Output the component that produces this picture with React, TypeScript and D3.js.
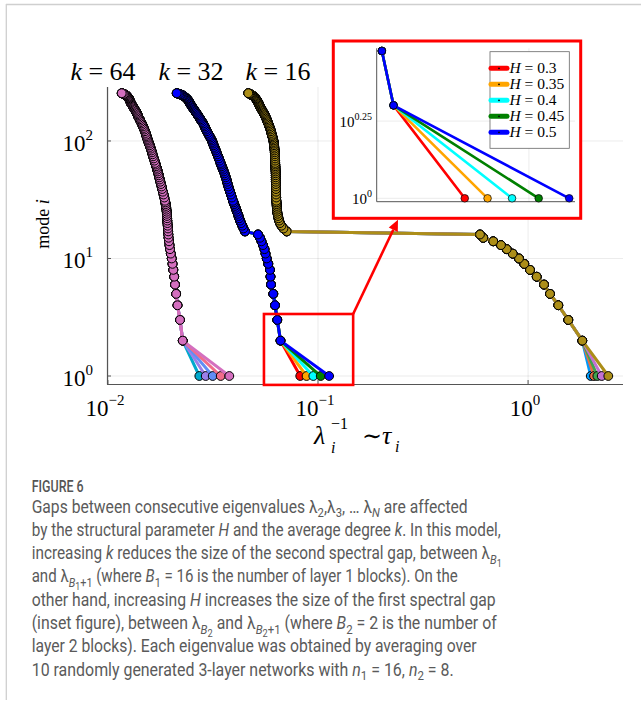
import React from 'react';
import { scaleLog, line } from 'd3';

const width = 641;
const height = 706;

const hValues = ['0.3', '0.35', '0.4', '0.45', '0.5'];
const kLabels = ['64', '32', '16'];

// modes i read along the dense upper band (same modes for every k)
const modesUpper = [255, 253, 251, 249, 247, 245, 243, 240, 237, 234, 231, 228, 225, 221, 217, 213, 209, 205, 201, 197, 193, 189, 185, 181, 177, 173, 169, 165, 161, 157, 153, 149, 145, 141, 137, 133, 129, 125, 121, 117, 113, 110, 107, 104, 101, 98, 95, 92, 89, 86, 83, 80, 77, 74, 71, 68, 65, 63, 61, 59, 57, 55, 53, 51, 49, 47, 45, 43, 41, 39, 37, 35, 33, 31, 30, 29, 28, 27, 26, 25, 24, 23, 22, 21, 20, 19, 18, 17];
const modesLower = [16, 15, 14, 13, 12, 11, 10, 9, 8, 7, 6, 5, 4, 3, 2];

// lambda_i^-1 for k = 64
const up64 = [0.01163, 0.01178, 0.01193, 0.01203, 0.01212, 0.01222, 0.01229, 0.01236, 0.01244, 0.0125, 0.01256, 0.01261, 0.01266, 0.01271, 0.01277, 0.01283, 0.01288, 0.01297, 0.01306, 0.01315, 0.01324, 0.01333, 0.01343, 0.01353, 0.01363, 0.01372, 0.0138, 0.01388, 0.01395, 0.01405, 0.01416, 0.01426, 0.01437, 0.01447, 0.01458, 0.01469, 0.0148, 0.01491, 0.01501, 0.01512, 0.01521, 0.01527, 0.01535, 0.01543, 0.01551, 0.0156, 0.0157, 0.01581, 0.01591, 0.01601, 0.01611, 0.01621, 0.01631, 0.01641, 0.01653, 0.01666, 0.0168, 0.01689, 0.01698, 0.01708, 0.01718, 0.01727, 0.01737, 0.01746, 0.01755, 0.01766, 0.01777, 0.01789, 0.01801, 0.01813, 0.01826, 0.01841, 0.01856, 0.0187, 0.01877, 0.01883, 0.0189, 0.01895, 0.019, 0.01905, 0.01908, 0.01912, 0.01915, 0.01918, 0.01921, 0.01926, 0.01932, 0.01936];
const low64 = [0.0194, 0.01944, 0.01953, 0.01964, 0.01975, 0.01992, 0.02012, 0.0203, 0.02048, 0.02068, 0.02086, 0.02113, 0.02144, 0.02204, 0.0227];
const end64 = [0.02723, 0.02921, 0.03153, 0.03442, 0.03783];

// k = 32
const up32 = [0.02125, 0.02155, 0.02188, 0.02215, 0.0224, 0.02265, 0.02285, 0.02303, 0.02325, 0.02345, 0.0236, 0.0238, 0.024, 0.02414, 0.02428, 0.02442, 0.0246, 0.02474, 0.0249, 0.02508, 0.02528, 0.02548, 0.0257, 0.02592, 0.02615, 0.02638, 0.0266, 0.02684, 0.02708, 0.02732, 0.02756, 0.02782, 0.02812, 0.02844, 0.02864, 0.02886, 0.02908, 0.02931, 0.02958, 0.02988, 0.0302, 0.03046, 0.03072, 0.031, 0.03125, 0.03145, 0.03165, 0.03185, 0.0321, 0.03235, 0.03262, 0.03288, 0.03315, 0.03345, 0.03375, 0.03405, 0.03435, 0.03458, 0.03482, 0.03508, 0.03535, 0.03562, 0.0359, 0.03614, 0.0364, 0.03668, 0.03692, 0.03716, 0.03745, 0.0378, 0.03815, 0.03855, 0.03893, 0.03939, 0.03965, 0.03993, 0.04026, 0.04055, 0.04085, 0.04115, 0.0415, 0.04184, 0.0422, 0.0426, 0.0431, 0.04365, 0.0442, 0.04493];
const low32 = [0.05181, 0.05296, 0.05383, 0.05473, 0.05563, 0.05625, 0.05699, 0.058, 0.05909, 0.05941, 0.05975, 0.06127, 0.06242, 0.064, 0.0663];
const end32 = [0.0823, 0.0882, 0.095, 0.103, 0.113];

// k = 16
const up16 = [0.04658, 0.04705, 0.0475, 0.0479, 0.04825, 0.0486, 0.04893, 0.0493, 0.04972, 0.05005, 0.05035, 0.05065, 0.05096, 0.05127, 0.05157, 0.05187, 0.05215, 0.0524, 0.05265, 0.05292, 0.05323, 0.0536, 0.05398, 0.05435, 0.05473, 0.05513, 0.05553, 0.05594, 0.05627, 0.0566, 0.05693, 0.05727, 0.05763, 0.058, 0.05835, 0.0587, 0.05906, 0.05942, 0.05972, 0.06, 0.06032, 0.06058, 0.06085, 0.0611, 0.06133, 0.0615, 0.06165, 0.0618, 0.06192, 0.06205, 0.06217, 0.06228, 0.06234, 0.0624, 0.06246, 0.06252, 0.06258, 0.06262, 0.06268, 0.06273, 0.06279, 0.06285, 0.0629, 0.06292, 0.06294, 0.06296, 0.06297, 0.06301, 0.06305, 0.0631, 0.06314, 0.06319, 0.06326, 0.06338, 0.06346, 0.06353, 0.0636, 0.0637, 0.06382, 0.06395, 0.0642, 0.0645, 0.06486, 0.06535, 0.06593, 0.06702, 0.06852, 0.07096];
const low16 = [0.5903, 0.612, 0.6829, 0.743, 0.791, 0.8448, 0.9053, 0.9594, 1.0212, 1.099, 1.1909, 1.2716, 1.3928, 1.5541, 1.8119];
const end16 = [1.987, 2.06, 2.136, 2.241, 2.409];

const colors64 = ['#00a9cd', '#9b7fe9', '#618df6', '#f16c8b', '#d46fbf'];
const colors32 = ['#ff0000', '#ffa500', '#00ffff', '#008000', '#0000ff'];
const colors16 = ['#009afa', '#e36f47', '#3ea44e', '#c371d2', '#ac8e18'];

const xTicks = [0.01, 0.1, 1];
const xTickExp = ['\u22122', '\u22121', '0'];
const yTicks = [1, 10, 100];
const yTickExp = ['0', '1', '2'];
const insetYTicks = [1, Math.pow(10, 0.25)];
const insetYTickExp = ['0', '0.25'];
const insetModes = [3, 2];

// zoomed region shown in the inset (data coords)
const zoomBox = { x0: 0.0553, x1: 0.147, y0: 0.84, y1: 3.37 };

const x = scaleLog().domain([0.0099, 2.83]).range([107, 623]);
const y = scaleLog().domain([0.855, 288]).range([384, 87]);

const inset = { left: 333.3, top: 41, right: 580.7, bottom: 218.3 };
const ix = scaleLog().domain([0.063, 0.115]).range([376.7, 575]);
const iy = scaleLog().domain([0.975, 3.06]).range([201.7, 48.3]);

const serif = "'Liberation Serif', 'DejaVu Serif', serif";
const sans = "Roboto, 'Noto Sans', sans-serif";

type Seg = [string, number?, boolean?];
const caption: Seg[][] = [
  [['Gaps between consecutive eigenvalues '], ['λ'], ['2', 1], [','], ['λ'], ['3', 1], [', … '], ['λ'], ['N', 1, true], [' are affected']],
  [['by the structural parameter '], ['H', 0, true], [' and the average degree '], ['k', 0, true], ['. In this model,']],
  [['increasing '], ['k', 0, true], [' reduces the size of the second spectral gap, between '], ['λ'], ['B', 1, true], ['1', 2]],
  [['and '], ['λ'], ['B', 1, true], ['1', 2], ['+1', 1], [' (where '], ['B', 0, true], ['1', 1], [' = 16 is the number of layer 1 blocks). On the']],
  [['other hand, increasing '], ['H', 0, true], [' increases the size of the first spectral gap']],
  [['(inset figure), between '], ['λ'], ['B', 1, true], ['2', 2], [' and '], ['λ'], ['B', 1, true], ['2', 2], ['+1', 1], [' (where '], ['B', 0, true], ['2', 1], [' = 2 is the number of']],
  [['layer 2 blocks). Each eigenvalue was obtained by averaging over']],
  [['10 randomly generated 3-layer networks with '], ['n', 0, true], ['1', 1], [' = 16, '], ['n', 0, true], ['2', 1], [' = 8.']],
];
const captionWidths = [436, 469, 470, 426, 464, 465, 445, 422];

const curves = [
  { up: up16, low: low16, ends: end16, colors: colors16 },
  { up: up32, low: low32, ends: end32, colors: colors32 },
  { up: up64, low: low64, ends: end64, colors: colors64 },
];

const mainLine = line<[number, number]>().x(d => x(d[0])).y(d => y(d[1]));
const insetLine = line<[number, number]>().x(d => ix(d[0])).y(d => iy(d[1]));

const CaptionLine = ({ segs, i }: { segs: Seg[]; i: number }) => {
  const off = [0, 4.5, 7.5];
  const fs = [18, 13, 10.5];
  let prev = 0;
  return (
    <text x={31.7} y={512.5 + i * 23.3} fontFamily={sans} fontSize={18} fill="#5a5a5a"
      textLength={captionWidths[i]} lengthAdjust="spacingAndGlyphs" style={{ whiteSpace: 'pre' }}>
      {segs.map((s, j) => {
        const lvl = s[1] || 0;
        const dy = off[lvl] - off[prev];
        prev = lvl;
        return (
          <tspan key={j} dy={dy} fontSize={fs[lvl]} fontStyle={s[2] ? 'italic' : 'normal'}>{s[0]}</tspan>
        );
      })}
    </text>
  );
};

const App = () => {
  // arrow from zoom box corner to inset
  const ax0 = x(zoomBox.x1), ay0 = y(zoomBox.y1);
  const ax1 = 398, ay1 = inset.bottom + 1.5;
  const len = Math.hypot(ax1 - ax0, ay1 - ay0);
  const ux = (ax1 - ax0) / len, uy = (ay1 - ay0) / len;
  const hb = [ax1 - ux * 11, ay1 - uy * 11];
  const head = `${ax1},${ay1} ${hb[0] - uy * 5},${hb[1] + ux * 5} ${hb[0] + uy * 5},${hb[1] - ux * 5}`;

  const m32 = insetModes.map(m => [low32[modesLower.indexOf(m)], m] as [number, number]);

  return (
    <svg width={width} height={height} style={{ position: 'absolute', left: 0, top: 0, background: '#fff' }}>
      {/* page frame */}
      <line x1={6} y1={4.5} x2={641} y2={4.5} stroke="#cfcfcf" strokeWidth={1.3} />
      <line x1={6.3} y1={4} x2={6.3} y2={700} stroke="#cfcfcf" strokeWidth={1.3} />

      {/* grid */}
      {xTicks.map((t, i) => (
        <line key={'gx' + i} x1={x(t)} x2={x(t)} y1={87} y2={384} stroke="#000" strokeOpacity={0.08} />
      ))}
      {yTicks.map((t, i) => (
        <line key={'gy' + i} x1={107} x2={623} y1={y(t)} y2={y(t)} stroke="#000" strokeOpacity={0.08} />
      ))}

      {/* series: one per H, markers drawn from mode 1 upward */}
      {curves.map((c, ci) => (
        <g key={ci}>
          {c.ends.map((e, j) => {
            const pts: [number, number][] = [[e, 1]];
            for (let i = c.low.length - 1; i >= 0; i--) pts.push([c.low[i], modesLower[i]]);
            for (let i = c.up.length - 1; i >= 0; i--) pts.push([c.up[i], modesUpper[i]]);
            return (
              <g key={j}>
                <path d={mainLine(pts) || ''} fill="none" stroke={c.colors[j]} strokeWidth={3} strokeLinejoin="round" />
                {pts.map((p, k) => (
                  <circle key={k} cx={x(p[0])} cy={y(p[1])} r={4.4} fill={c.colors[j]} stroke="#000" strokeWidth={1} />
                ))}
              </g>
            );
          })}
        </g>
      ))}

      {/* axes */}
      <line x1={107.5} x2={107.5} y1={87} y2={384.5} stroke="#555" strokeWidth={1.2} />
      <line x1={107} x2={623} y1={384.5} y2={384.5} stroke="#555" strokeWidth={1.2} />
      {xTicks.map((t, i) => (
        <g key={'xt' + i}>
          <line x1={x(t)} x2={x(t)} y1={384} y2={380} stroke="#555" />
          <text x={x(t) - 3} y={416} textAnchor="middle" fontFamily={serif} fontSize={23} fill="#000">
            10<tspan dy={-11} fontSize={15}>{xTickExp[i]}</tspan>
          </text>
        </g>
      ))}
      {yTicks.map((t, i) => (
        <g key={'yt' + i}>
          <line x1={107} x2={111} y1={y(t)} y2={y(t)} stroke="#555" />
          <text x={93} y={y(t) + 10} textAnchor="end" fontFamily={serif} fontSize={23} fill="#000">
            10<tspan dy={-11} fontSize={15}>{yTickExp[i]}</tspan>
          </text>
        </g>
      ))}

      {/* axis titles */}
      <g fontFamily={serif} fill="#000">
        <text x={314} y={444} fontSize={26} fontStyle="italic">λ</text>
        <text x={331} y={429} fontSize={16}>−1</text>
        <text x={331} y={453} fontSize={16} fontStyle="italic">i</text>
        <text x={362} y={444} fontSize={24}>∼</text>
        <text x={382} y={444} fontSize={26} fontStyle="italic">τ</text>
        <text x={395} y={452} fontSize={16} fontStyle="italic">i</text>
        <text transform="translate(49,224) rotate(-90)" textAnchor="middle" fontSize={18}>
          mode <tspan fontStyle="italic">i</tspan>
        </text>
      </g>

      {/* k labels */}
      {kLabels.map((k, i) => (
        <text key={'k' + i} x={[103, 191, 278][i]} y={80} textAnchor="middle" fontFamily={serif} fontSize={26} fill="#000">
          <tspan fontStyle="italic">k</tspan> = {k}
        </text>
      ))}

      {/* zoom box and arrow */}
      <rect x={x(zoomBox.x0)} y={y(zoomBox.y1)} width={x(zoomBox.x1) - x(zoomBox.x0)} height={y(zoomBox.y0) - y(zoomBox.y1)}
        fill="none" stroke="#ff0000" strokeWidth={2.6} />
      <line x1={ax0} y1={ay0} x2={hb[0]} y2={hb[1]} stroke="#ff0000" strokeWidth={2.6} />
      <polygon points={head} fill="#ff0000" />

      {/* inset */}
      <rect x={inset.left} y={inset.top} width={inset.right - inset.left} height={inset.bottom - inset.top}
        fill="#fff" stroke="#ff0000" strokeWidth={3} />
      {insetYTicks.map((t, i) => (
        <g key={'iy' + i}>
          <line x1={376.7} x2={575} y1={iy(t)} y2={iy(t)} stroke="#000" strokeOpacity={0.08} />
          <text x={372} y={iy(t) + 5.5} textAnchor="end" fontFamily={serif} fontSize={15} fill="#000">
            10<tspan dy={-7} fontSize={10}>{insetYTickExp[i]}</tspan>
          </text>
        </g>
      ))}
      <line x1={ix(0.1)} x2={ix(0.1)} y1={48.3} y2={201.7} stroke="#000" strokeOpacity={0.08} />
      <line x1={376.7} x2={376.7} y1={48.3} y2={201.7} stroke="#555" strokeWidth={1} />
      <line x1={376.7} x2={575} y1={201.7} y2={201.7} stroke="#555" strokeWidth={1} />
      {end32.map((e, j) => {
        const pts: [number, number][] = [[e, 1], ...m32.slice().reverse()];
        return (
          <g key={'in' + j}>
            <path d={insetLine(pts) || ''} fill="none" stroke={colors32[j]} strokeWidth={2.6} />
            {pts.map((p, k) => (
              <circle key={k} cx={ix(p[0])} cy={iy(p[1])} r={3.8} fill={colors32[j]} stroke="#000" strokeWidth={0.7} />
            ))}
          </g>
        );
      })}

      {/* inset legend */}
      <rect x={490} y={51.7} width={79.3} height={96.6} fill="#fff" stroke="#666" strokeWidth={0.8} />
      {hValues.map((h, i) => {
        const cy = 68.3 + i * 16;
        return (
          <g key={'lg' + i}>
            <line x1={491} x2={507} y1={cy} y2={cy} stroke={colors32[i]} strokeWidth={5} strokeLinecap="round" />
            <circle cx={499} cy={cy} r={0.9} fill="#000" />
            <text x={509.5} y={cy + 5} fontFamily={serif} fontSize={15.5} fill="#000">
              <tspan fontStyle="italic">H</tspan> = {h}
            </text>
          </g>
        );
      })}

      {/* caption */}
      <text x={31.7} y={491.7} fontFamily={sans} fontSize={16} fontWeight={500} fill="#555"
        textLength={52} lengthAdjust="spacingAndGlyphs">FIGURE 6</text>
      {caption.map((segs, i) => (
        <CaptionLine key={'c' + i} segs={segs} i={i} />
      ))}
    </svg>
  );
};

export default App;
